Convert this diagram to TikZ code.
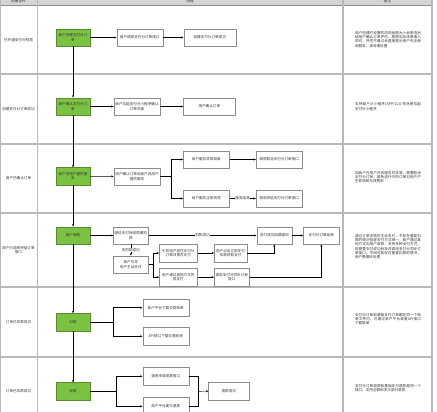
\documentclass[tikz,border=0pt]{standalone}
\usepackage{fontspec}
\setmainfont{Noto Sans CJK SC}
\XeTeXlinebreaklocale "zh"
\XeTeXlinebreakskip = 0pt plus 1pt
\usetikzlibrary{arrows.meta}
\definecolor{grn}{HTML}{7CC242}
\definecolor{grnd}{HTML}{5B8C32}
\definecolor{tline}{HTML}{B8B8B8}
\definecolor{bline}{HTML}{8C8C8C}
\definecolor{hdr}{HTML}{D4D4D4}
\definecolor{txt}{HTML}{333333}
\begin{document}
\begin{tikzpicture}[x=1pt,y=-1pt, font=\fontsize{3.6}{4.3}\selectfont, text=txt,
 gbox/.style={draw=grnd, fill=grn, minimum width=34pt, minimum height=17.5pt, text width=31pt, align=flush center, inner sep=1pt, line width=0.4pt},
 wbox/.style={draw=bline, fill=white, minimum height=17.5pt, inner sep=1pt, align=flush center, line width=0.4pt},
 arr/.style={-{Stealth[length=2.4pt,width=2pt]}, line width=0.45pt},
 ln/.style={line width=0.45pt},
 note/.style={text width=66pt, align=justify, inner sep=0pt},
 side/.style={text width=35pt, align=flush center, inner sep=0pt},
 lbl/.style={fill=white, inner sep=0.5pt}]
\clip (0,0) rectangle (437,412);
% table
\fill[hdr] (0,-6) rectangle (432,5);
\node (h1) at (18.5,1) {前置条件};
\node (h2) at (190,1) {流程};
\node (h3) at (387.5,1) {备注};
\draw[bline, line width=0.6pt] (0,5) -- (432,5);
\foreach \yy in {74,144,213,287,357} \draw[tline, line width=1.2pt] (0,\yy) -- (432,\yy);
\draw[tline, line width=0.8pt] (0.4,-6) -- (0.4,420);
\draw[tline, line width=1pt] (37,-6) -- (37,420);
\draw[tline, line width=1.2pt] (343,-6) -- (343,420);
\draw[tline, line width=1.2pt] (432,-6) -- (432,420);
% left labels
\node[side] (l1) at (18.5,40) {已开通支付分权限};
\node[side] (l2) at (18.5,109) {创建支付分订单成功};
\node[side] (l3) at (18.5,178) {用户已确认订单};
\node[side] (l4) at (18.5,250) {商户已调用完结订单接口};
\node[side] (l5) at (18.5,322) {订单已扣款成功};
\node[side] (l6) at (18.5,391.5) {订单已扣款成功};
% notes
\node[note] (n1) at (388,39.5) {商户创建时设置的风险金额大小会影响后续用户确认订单评估，按照实际场景填入即可，评估不通过会直接提示用户无法使用服务，请合理设置};
\node[note] (n2) at (388,106.5) {支持商户从小程序/APP/公众号场景拉起支付分小程序};
\node[note] (n3) at (388,177) {如商户在用户开启服务时异常，需要取消支付分订单，避免进行中的订单对用户产生影响和无效费用};
\node[note] (n4) at (388,246.5) {通过订单详情页主动支付，不存在重复扣款的情况但是支付方式单一；商户通过其他方式向用户收款，支持多种支付方式，但需要支付成功后及时调用支付分同步订单接口，中间可能存在重复扣款的情况，商户需做好处理};
\node[note] (n5) at (388,319) {支付分订单和基础支付订单都在同一个账单文件内，可通过商户平台或者API接口下载账单};
\node[note] (n6) at (388,388) {支付分订单退款和基础支付退款是同一个接口，支持全额和多次部分退款};
% row 1
\node[gbox] (g1) at (73,37.5) {商户创建支付分订单};
\node[wbox, minimum width=46pt, text width=44pt] (b11) at (139.7,37.5) {商户调用支付分订单接口};
\node[wbox, minimum width=52pt, text width=50pt] (b12) at (209.7,37.5) {创建支付分订单成功};
% row 2
\node[gbox] (g2) at (73,106.5) {商户确认支付分订单};
\node[wbox, minimum width=46.3pt, text width=44pt] (b21) at (137,106.5) {商户拉起支付分小程序确认订单页面};
\node[wbox, minimum width=52pt, text width=50pt] (b22) at (209.3,106.5) {用户确认订单};
% row 3
\node[gbox] (g3) at (73,176.3) {商户向用户提供服务};
\node[wbox, minimum width=46.3pt, text width=44pt] (b31) at (137,176.5) {用户确认订单后商户向用户提供服务};
\node[wbox, minimum width=46pt, text width=44pt] (b32) at (206.3,159.5) {商户服务异常结束};
\node[wbox, minimum width=46pt, text width=44pt] (b33) at (206.3,198.5) {商户服务正常完成};
\node[wbox, minimum width=46.3pt, text width=44pt] (b34) at (279.2,159.5) {调用取消支付分订单接口};
\node[wbox, minimum width=46.3pt, text width=44pt] (b35) at (279.2,198.5) {调用完结支付分订单接口};
% row 4
\node[gbox] (g4) at (73,235.5) {商户收款};
\node[wbox, minimum width=35pt, text width=33pt] (b41) at (130.8,235.5) {微信支付持续周期扣款};
\node[wbox, minimum width=35pt, text width=33pt] (b4ok) at (274.2,235.5) {支付成功回调通知};
\node[wbox, minimum width=36pt, text width=34pt] (b4end) at (321.3,235.5) {支付分订单结束};
\node[wbox, minimum width=35pt, text width=33pt] (b42) at (130.8,264.5) {商户引导\\用户主动支付};
\node[wbox, minimum width=38pt, text width=36pt] (b43) at (178.3,253) {引导用户前往支付分订单详情页支付};
\node[wbox, minimum width=38pt, text width=36pt] (b44) at (178.3,277.2) {用户通过其他方式完成支付};
\node[wbox, minimum width=32.5pt, text width=30.5pt] (b45) at (230.5,253) {用户点击立即支付扣款获取支付};
\node[wbox, minimum width=35pt, text width=33pt] (b46) at (231.8,277.2) {调用支付分同步订单接口};
% row 5
\node[gbox] (g5) at (73,322.2) {对账};
\node[wbox, minimum width=46pt, text width=44pt] (b51) at (165.7,307.7) {商户平台下载交易账单};
\node[wbox, minimum width=46pt, text width=44pt] (b52) at (165.7,336.3) {API接口下载交易账单};
% row 6
\node[gbox] (g6) at (73,391.3) {退款};
\node[wbox, minimum width=46pt, text width=44pt] (b61) at (165.7,376.3) {调用申请退款接口};
\node[wbox, minimum width=46pt, text width=44pt] (b62) at (165.7,406.3) {商户平台提交退款};
\node[wbox, minimum width=40.3pt, text width=38pt] (b63) at (228.8,391.2) {退款成功};
% coordinates
\coordinate (s3) at (171,176.5);
\coordinate (s4) at (153.3,264.5);
\coordinate (s5) at (113.3,322.2);
\coordinate (s6) at (116,391.3);
\coordinate (m6) at (198.7,391.3);
% green chain
\draw[arr] (g1) -- (g2);
\draw[arr] (g2) -- (g3);
\draw[arr] (g3) -- (g4);
\draw[arr] (g4) -- (g5);
\draw[arr] (g5) -- (g6);
% row 1-2
\draw[arr] (g1) -- (b11);
\draw[arr] (b11) -- (b12);
\draw[arr] (g2) -- (b21);
\draw[arr] (b21) -- (b22);
% row 3
\draw[arr] (g3) -- (b31);
\draw[ln] (b31.east) -- (s3);
\draw[arr] (s3) |- (b32.west);
\draw[arr] (s3) |- (b33.west);
\draw[arr] (b32) -- (b34);
\draw[arr] (b33) -- node[lbl] {服务结束} (b35);
% row 4
\draw[arr] (g4) -- (b41);
\draw[arr] (b41) -- node[lbl] {扣款成功} (b4ok);
\draw[arr] (b4ok) -- (b4end);
\draw[arr] (b41) -- node[lbl] {未扣款成功} (b42);
\draw[ln] (b42.east) -- (s4);
\draw[arr] (s4) |- (b43.west);
\draw[arr] (s4) |- (b44.west);
\draw[arr] (b43) -- (b45);
\draw[arr] (b44) -- (b46);
\draw[arr] (b45.east) -| (b4ok.south);
\draw[arr] (b46.east) -| (b4end.south);
% row 5
\draw[ln] (g5.east) -- (s5);
\draw[arr] (s5) |- (b51.west);
\draw[arr] (s5) |- (b52.west);
% row 6
\draw[ln] (g6.east) -- (s6);
\draw[arr] (s6) |- (b61.west);
\draw[arr] (s6) |- (b62.west);
\draw[ln] (b61.east) -| (m6);
\draw[ln] (b62.east) -| (m6);
\draw[arr] (m6) -- (b63.west);
\end{tikzpicture}
\end{document}
